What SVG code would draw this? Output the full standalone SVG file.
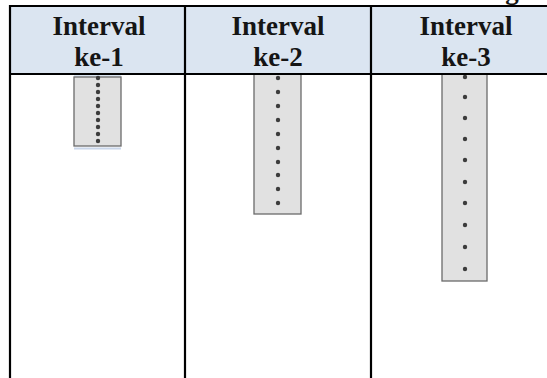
<svg xmlns="http://www.w3.org/2000/svg" width="547" height="378" viewBox="0 0 547 378">
<style>
.hdr{fill:#dbe5f1}
.ln{stroke:#000;stroke-width:2.2;fill:none}
.t{font-family:"Liberation Serif","Times New Roman",serif;font-weight:bold;font-size:27px;fill:#151515;text-anchor:middle}
.bar{fill:#e1e1e1;stroke:#6a6a6a;stroke-width:1.3}
.dot{fill:#3c3c3c}
</style>
<rect width="547" height="378" fill="#fff"/>
<text class="t" x="512" y="-1">g</text>
<g id="header">
<rect class="hdr" x="10" y="6" width="550" height="68"/>
</g>
<g id="col1">
<text class="t" x="99" y="35">Interval</text>
<text class="t" x="99" y="66">ke-1</text>
<g id="bar1">
<rect x="74" y="75" width="47" height="71" fill="#dbe5f1"/>
<rect class="bar" x="74" y="77" width="47" height="69"/>
<line x1="74" y1="148.5" x2="121" y2="148.5" stroke="#c9d6ea" stroke-width="2"/>
<g class="dot">
<circle cx="98" cy="78" r="2.2"/><circle cx="98" cy="85" r="2.2"/><circle cx="98" cy="92" r="2.2"/><circle cx="98" cy="99" r="2.2"/><circle cx="98" cy="106" r="2.2"/><circle cx="98" cy="113" r="2.2"/><circle cx="98" cy="120" r="2.2"/><circle cx="98" cy="127" r="2.2"/><circle cx="98" cy="134" r="2.2"/><circle cx="98" cy="141" r="2.2"/>
</g>
</g>
</g>
<g id="col2">
<text class="t" x="278" y="35">Interval</text>
<text class="t" x="278" y="66">ke-2</text>
<g id="bar2">
<rect class="bar" x="254" y="74" width="47" height="140"/>
<g class="dot">
<circle cx="278" cy="78" r="2.2"/><circle cx="278" cy="92" r="2.2"/><circle cx="278" cy="106" r="2.2"/><circle cx="278" cy="120" r="2.2"/><circle cx="278" cy="134" r="2.2"/><circle cx="278" cy="148" r="2.2"/><circle cx="278" cy="162" r="2.2"/><circle cx="278" cy="175" r="2.2"/><circle cx="278" cy="189" r="2.2"/><circle cx="278" cy="203" r="2.2"/>
</g>
</g>
</g>
<g id="col3">
<text class="t" x="466" y="35">Interval</text>
<text class="t" x="466" y="66">ke-3</text>
<g id="bar3">
<rect class="bar" x="442" y="74" width="45" height="207"/>
<g class="dot">
<circle cx="465" cy="77" r="2.2"/><circle cx="465" cy="97" r="2.2"/><circle cx="465" cy="118" r="2.2"/><circle cx="465" cy="139" r="2.2"/><circle cx="465" cy="160" r="2.2"/><circle cx="465" cy="182" r="2.2"/><circle cx="465" cy="203" r="2.2"/><circle cx="465" cy="225" r="2.2"/><circle cx="465" cy="247" r="2.2"/><circle cx="465" cy="269" r="2.2"/>
</g>
</g>
</g>
<g id="connectors">
<line class="ln" x1="9" y1="6" x2="560" y2="6"/>
<line class="ln" x1="9" y1="74" x2="560" y2="74"/>
<line class="ln" x1="10" y1="5" x2="10" y2="378"/>
<line class="ln" x1="185" y1="5" x2="185" y2="378"/>
<line class="ln" x1="371" y1="5" x2="371" y2="378"/>
</g>
</svg>
